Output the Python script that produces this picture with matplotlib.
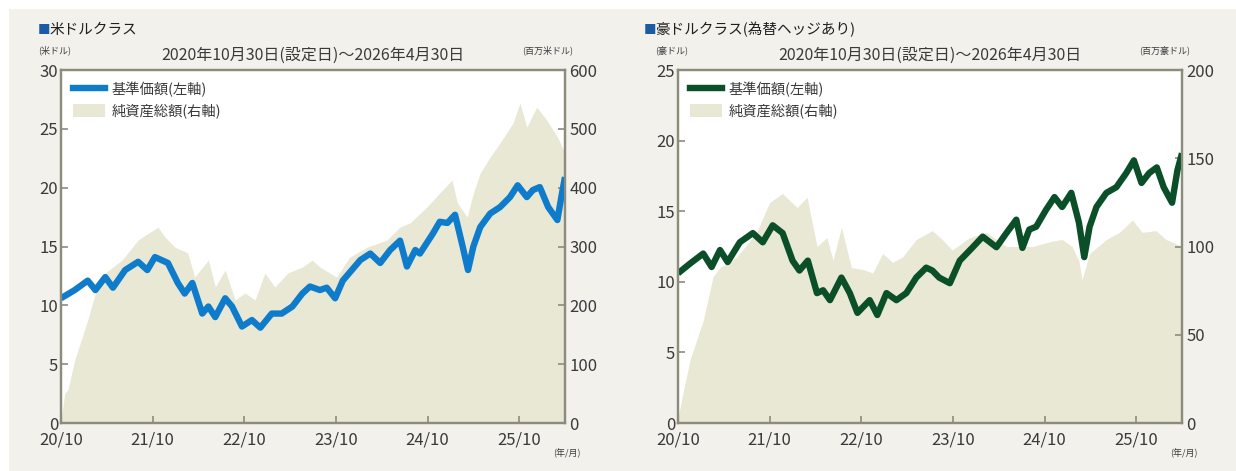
import matplotlib
matplotlib.use("Agg")
import matplotlib.pyplot as plt
from matplotlib.patches import Rectangle, Patch
from matplotlib.lines import Line2D

plt.rcParams['font.family'] = ['Noto Sans CJK JP', 'DejaVu Sans']

# ---------------- data ----------------
# x = months since launch (2020/10/30)
x_ticks = [0, 12, 24, 36, 48, 60]
x_tick_labels = ["20/10", "21/10", "22/10", "23/10", "24/10", "25/10"]

usd_nav_m = [0, 1.8, 3.5, 4.5, 5.8, 6.8, 8.4, 10.1, 11.3, 12.3, 14.0, 15.3, 16.2, 17.2, 18.5, 19.3,
             20.2, 21.5, 22.4, 23.7, 25.0, 26.1, 27.6, 28.9, 30.3, 31.6, 32.6, 33.9, 34.8, 35.9,
             36.9, 39.2, 40.5, 41.8, 43.1, 44.4, 45.3, 46.4, 47.0, 48.7, 49.6, 50.6, 51.6, 52.6,
             53.3, 54.0, 54.9, 56.2, 57.5, 58.8, 59.8, 61.0, 61.8, 62.7, 63.8, 65.0, 65.6, 66.0]
usd_nav = [10.6, 11.3, 12.1, 11.3, 12.4, 11.5, 13.0, 13.7, 13.0, 14.1, 13.6, 11.9, 11.0, 11.9, 9.3, 9.9,
           9.0, 10.6, 9.9, 8.2, 8.75, 8.1, 9.3, 9.3, 9.9, 11.0, 11.6, 11.3, 11.5, 10.6,
           12.1, 13.85, 14.4, 13.6, 14.7, 15.5, 13.3, 14.7, 14.4, 16.1, 17.1, 17.0, 17.7, 15.0,
           13.0, 15.0, 16.65, 17.8, 18.35, 19.2, 20.2, 19.2, 19.8, 20.05, 18.35, 17.25, 19.5, 20.9]

usd_aum_m = [0, 0.5, 0.9, 1.8, 3.5, 4.5, 5.8, 8.0, 10.1, 12.7, 13.6, 14.9, 16.6, 17.5, 19.3, 20.2,
             21.5, 22.8, 24.1, 25.4, 26.7, 28.0, 29.7, 31.6, 32.9, 33.9, 36.1, 37.8, 40.1, 42.7,
             44.4, 45.7, 47.9, 49.6, 51.2, 51.9, 53.2, 54.0, 54.9, 56.2, 57.5, 59.2, 60.1, 61.0,
             62.3, 63.6, 65.0, 66.0]
usd_aum = [5, 51, 56, 107, 175, 221, 255, 277, 311, 333, 316, 299, 289, 248, 277, 231,
           260, 209, 221, 209, 255, 231, 255, 265, 277, 265, 248, 282, 299, 311,
           333, 340, 367, 391, 413, 374, 350, 391, 425, 452, 476, 510, 544, 503,
           537, 515, 486, 459]

aud_nav_m = [0, 1.6, 3.3, 4.4, 5.5, 6.5, 8.1, 9.8, 11.1, 12.4, 13.7, 15.0, 15.9, 17.0, 18.2, 19.0,
             19.9, 21.4, 22.5, 23.5, 25.1, 26.1, 27.3, 28.6, 29.9, 31.2, 32.5, 33.3, 34.2, 35.6,
             36.9, 38.6, 39.9, 41.7, 43.0, 44.3, 45.1, 46.0, 46.9, 48.2, 49.3, 50.3, 51.5, 52.5,
             53.2, 53.9, 54.8, 56.1, 57.4, 58.7, 59.7, 60.7, 61.7, 62.7, 63.6, 64.7, 65.4, 66.0]
aud_nav = [10.6, 11.3, 12.0, 11.05, 12.25, 11.4, 12.8, 13.45, 12.8, 14.0, 13.45, 11.5, 10.8, 11.5, 9.2, 9.4,
           8.7, 10.3, 9.2, 7.8, 8.7, 7.65, 9.2, 8.7, 9.2, 10.3, 11.0, 10.8, 10.3, 9.9,
           11.5, 12.45, 13.2, 12.45, 13.45, 14.4, 12.4, 13.7, 13.9, 15.1, 16.0, 15.3, 16.3, 14.2,
           11.75, 13.9, 15.3, 16.3, 16.7, 17.7, 18.6, 17.0, 17.7, 18.1, 16.7, 15.6, 17.9, 19.1]

aud_aum_m = [0, 0.65, 1.6, 3.3, 4.6, 5.5, 7.7, 10.3, 12.0, 13.7, 15.6, 16.9, 18.2, 19.5, 20.3, 21.4,
             22.7, 24.2, 25.5, 26.8, 28.1, 29.4, 31.2, 33.3, 34.6, 35.9, 38.2, 40.4, 43.0, 44.7,
             46.4, 49.0, 50.3, 51.6, 52.5, 52.9, 53.9, 56.1, 57.8, 59.5, 60.8, 62.6, 63.9, 66.0]
aud_aum = [3, 17, 36, 58, 83, 88, 94, 108, 125, 130, 122, 128, 100, 105, 92, 111,
           88, 87, 85, 96, 91, 94, 104, 109, 104, 98, 105, 108, 100, 100,
           100, 103, 104, 100, 92, 81, 96, 104, 108, 115, 108, 109, 104, 100]

panels = [
    dict(title="米ドルクラス", unit_l="(米ドル)", unit_r="(百万米ドル)",
         nav_m=usd_nav_m, nav=usd_nav, aum_m=usd_aum_m, aum=usd_aum,
         lmax=30, lstep=5, rmax=600, rstep=100, color="#0f7bcb",
         left=61, right=565, title_x=38),
    dict(title="豪ドルクラス(為替ヘッジあり)", unit_l="(豪ドル)", unit_r="(百万豪ドル)",
         nav_m=aud_nav_m, nav=aud_nav, aum_m=aud_aum_m, aum=aud_aum,
         lmax=25, lstep=5, rmax=200, rstep=50, color="#0a4f27",
         left=678, right=1182, title_x=644),
]
subtitle = "2020年10月30日(設定日)～2026年4月30日"
legend_labels = ["基準価額(左軸)", "純資産総額(右軸)"]

# ---------------- figure ----------------
W, H = 1236, 471
fig = plt.figure(figsize=(W / 100, H / 100), dpi=100, facecolor="white")
bg = "#f2f1ec"
fig.patches.append(Rectangle((9 / W, 0), 1 - 9 / W, 1 - 9 / H, transform=fig.transFigure,
                             facecolor=bg, edgecolor="none", zorder=-10))

def fx(px):
    return px / W

def fy(py):
    return 1 - py / H

top_px, bot_px = 70, 423
fill_color = "#e8e8d4"
frame_color = "#8c8c7c"
txt = "#3a3a3a"

for p in panels:
    ax2 = fig.add_axes([fx(p["left"]), fy(bot_px), fx(p["right"] - p["left"]), (bot_px - top_px) / H])
    ax = ax2.twinx()
    ax2.yaxis.tick_right()
    ax.yaxis.tick_left()
    ax.set_zorder(ax2.get_zorder() + 1)
    ax.patch.set_visible(False)
    ax2.set_facecolor("white")

    ax2.fill_between(p["aum_m"], p["aum"], 0, color=fill_color, linewidth=0)
    ax.plot(p["nav_m"], p["nav"], color=p["color"], linewidth=4.6, solid_joinstyle="round",
            solid_capstyle="butt")

    ax.set_xlim(0, 66)
    ax2.set_xlim(0, 66)
    ax.set_ylim(0, p["lmax"])
    ax2.set_ylim(0, p["rmax"])
    ax.set_yticks(range(0, p["lmax"] + 1, p["lstep"]))
    ax2.set_yticks(range(0, p["rmax"] + 1, p["rstep"]))
    ax2.set_xticks(x_ticks)
    ax2.set_xticklabels(x_tick_labels)

    for a in (ax, ax2):
        for s in a.spines.values():
            s.set_color(frame_color)
            s.set_linewidth(1.6)
        a.tick_params(direction="in", length=5, width=1.2, color=frame_color,
                      labelsize=12, labelcolor=txt, pad=3)
    ax.tick_params(axis="y", left=True, right=False, labelleft=True, labelright=False, pad=2)
    ax2.tick_params(axis="y", left=False, right=True, labelleft=False, labelright=True, pad=3)
    ax2.tick_params(axis="x", pad=6)

    handles = [Line2D([], [], color=p["color"], linewidth=4.6),
               Patch(facecolor=fill_color, edgecolor="none")]
    leg = ax.legend(handles, legend_labels, loc="upper left", bbox_to_anchor=(0.003, 0.995),
                    frameon=False, fontsize=10.3, handlelength=2.25, handleheight=1.0,
                    labelspacing=0.45, handletextpad=0.5, borderaxespad=0.3)
    for t in leg.get_texts():
        t.set_color(txt)

    cx = (p["left"] + p["right"]) / 2
    fig.text(fx(p["title_x"]), fy(30), "■", fontsize=9, color="#1d5aa6",
             ha="left", va="center")
    fig.text(fx(p["title_x"] + 11), fy(30), p["title"], fontsize=10.5, color="#1e1e1e",
             ha="left", va="center")
    fig.text(fx(cx), fy(55), subtitle, fontsize=11.5, color=txt, ha="center", va="center")
    fig.text(fx(p["left"] - 6), fy(50), p["unit_l"], fontsize=6.5, color=txt, ha="center", va="center")
    fig.text(fx(p["right"] - 17), fy(50), p["unit_r"], fontsize=6.5, color=txt, ha="center", va="center")
    fig.text(fx(p["right"] + 2), fy(453), "(年/月)", fontsize=6.5, color=txt, ha="center", va="center")

fig.savefig("out.png", dpi=100, facecolor=fig.get_facecolor())
